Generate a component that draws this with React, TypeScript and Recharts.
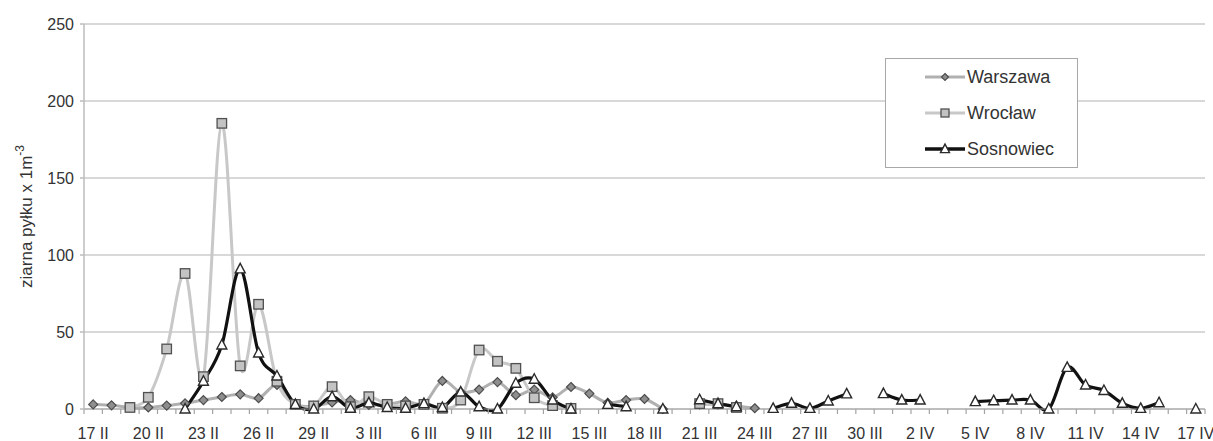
import React from 'react';
import { LineChart, Line, XAxis, YAxis, CartesianGrid, Legend, Label } from 'recharts';

// Daily categories, 17 II – 17 IV
const CATEGORIES = [
  '17 II', '18 II', '19 II', '20 II', '21 II', '22 II', '23 II', '24 II', '25 II', '26 II', '27 II', '28 II', '29 II',
  '1 III', '2 III', '3 III', '4 III', '5 III', '6 III', '7 III', '8 III', '9 III', '10 III', '11 III', '12 III',
  '13 III', '14 III', '15 III', '16 III', '17 III', '18 III', '19 III', '20 III', '21 III', '22 III', '23 III',
  '24 III', '25 III', '26 III', '27 III', '28 III', '29 III', '30 III', '31 III',
  '1 IV', '2 IV', '3 IV', '4 IV', '5 IV', '6 IV', '7 IV', '8 IV', '9 IV', '10 IV', '11 IV', '12 IV', '13 IV',
  '14 IV', '15 IV', '16 IV', '17 IV',
];

// Labelled every third day
const TICK_LABELS = [
  '17 II', '20 II', '23 II', '26 II', '29 II', '3 III', '6 III', '9 III', '12 III', '15 III', '18 III',
  '21 III', '24 III', '27 III', '30 III', '2 IV', '5 IV', '8 IV', '11 IV', '14 IV', '17 IV',
];

const Y_TICKS = [0, 50, 100, 150, 200, 250];

const WARSZAWA = [
  3, 2.4, 1, 1, 2.2, 3.7, 5.8, 7.8, 9.5, 7, 15.6, 3, 2,
  4.3, 5.8, 2.6, 3, 5, 3.6, 18.2, 11, 12.6, 17.5, 9, 12.6, 7.5, 14.3, 10, 4, 5.8, 6.5, 0, null,
  3, 3, 2, 0.5, null, null, null, null, null, null, null,
  null, null, null, null, null, null, null, null, null, null, null, null, null, null, null, null, null,
];

const WROCLAW = [
  null, null, 1, 7.6, 39, 88, 21, 185.5, 28, 68, 18, 3, 2,
  14.5, 1.5, 8, 3, 2, 3, 0.5, 5.8, 38.3, 31, 26.4, 7.3, 2.2, 0.4, null, null, null, null, null, null,
  3.5, 3.5, 1, null, null, null, null, null, null, null, null,
  null, null, null, null, null, null, null, null, null, null, null, null, null, null, null, null, null,
];

const SOSNOWIEC = [
  null, null, null, null, null, 0, 18, 41.6, 91, 36.4, 21.4, 3, 0,
  8, 0.5, 4, 1, 0.5, 3.5, 1, 11, 1.5, 0, 16.7, 19.3, 5.8, 0, null, 3, 1.5, null, 0, null,
  6, 3.5, 1.5, null, 0.4, 3.7, 0.4, 5.2, 9.8, null, 10,
  5.8, 5.8, null, null, 4.8, 5.4, 5.8, 5.8, 0, 27, 15.6, 12, 3.7, 0.4, 4.1, null, 0,
];

// each day sits in the middle of its own slot on a numeric axis
const DATA = CATEGORIES.map((day, i) => ({
  day,
  x: i + 0.5,
  warszawa: WARSZAWA[i],
  wroclaw: WROCLAW[i],
  sosnowiec: SOSNOWIEC[i],
}));

const CHART_W = 1213;
const CHART_H = 441;
const MARGIN = { top: 24, right: 8, bottom: 0, left: 0 };
const Y_AXIS_W = 84;
const SLOT = (CHART_W - MARGIN.left - MARGIN.right - Y_AXIS_W) / CATEGORIES.length;
const SLOT_EDGES = CATEGORIES.map((_, i) => i).concat([CATEGORIES.length]);

const FONT = '"Liberation Sans", Arial, Helvetica, sans-serif';
const TEXT = '#333';
const AXIS = '#a3a3a3';

// Smoothed line through every point (uniform Catmull-Rom as cubic Béziers)
const smoothCurve = (context: any) => {
  let pts: [number, number][] = [];
  return {
    areaStart() {},
    areaEnd() {},
    lineStart() {
      pts = [];
    },
    point(x: number, y: number) {
      pts.push([+x, +y]);
    },
    lineEnd() {
      const n = pts.length;
      if (!n) return;
      context.moveTo(pts[0][0], pts[0][1]);
      if (n === 1) {
        context.lineTo(pts[0][0], pts[0][1]);
        return;
      }
      for (let i = 0; i < n - 1; i++) {
        const p0 = pts[i - 1] || pts[i];
        const p1 = pts[i];
        const p2 = pts[i + 1];
        const p3 = pts[i + 2] || p2;
        context.bezierCurveTo(
          p1[0] + (p2[0] - p0[0]) / 6,
          p1[1] + (p2[1] - p0[1]) / 6,
          p2[0] - (p3[0] - p1[0]) / 6,
          p2[1] - (p3[1] - p1[1]) / 6,
          p2[0],
          p2[1]
        );
      }
    },
  };
};

const Diamond = ({ cx, cy, r = 4.5 }: any) => (
  <polygon
    points={`${cx},${cy - r} ${cx + r},${cy} ${cx},${cy + r} ${cx - r},${cy}`}
    fill="#8e8e8e"
    stroke="#4d4d4d"
    strokeWidth={1.2}
  />
);

const Square = ({ cx, cy, s = 9.5 }: any) => (
  <rect x={cx - s / 2} y={cy - s / 2} width={s} height={s} fill="#c3c3c3" stroke="#505050" strokeWidth={1.3} />
);

const Triangle = ({ cx, cy, w = 10 }: any) => (
  <polygon
    points={`${cx},${cy - w * 0.55} ${cx + w / 2},${cy + w * 0.4} ${cx - w / 2},${cy + w * 0.4}`}
    fill="#fff"
    stroke="#2b2b2b"
    strokeWidth={1.4}
  />
);

const dotWith = (Shape: any) => (props: any) => {
  const { cx, cy, index, value } = props;
  if (cx == null || cy == null || value == null) return <g key={`e-${index}`} />;
  return (
    <g key={`d-${index}`}>
      <Shape cx={cx} cy={cy} />
    </g>
  );
};

const XTick = (props: any) => {
  const { x, y, payload } = props;
  const v = payload.value;
  if (v % 3 !== 0 || v >= CATEGORIES.length) return <g />;
  return (
    <text x={x + SLOT / 2} y={y} dy="0.71em" textAnchor="middle" fontSize={16} fill={TEXT} fontFamily={FONT}>
      {TICK_LABELS[v / 3]}
    </text>
  );
};

const YTitle = (props: any) => {
  const vb = props.viewBox || { x: 0, y: 0, width: 0, height: 0 };
  const cx = vb.x + 26;
  const cy = vb.y + vb.height / 2;
  return (
    <text
      x={cx}
      y={cy}
      transform={`rotate(-90, ${cx}, ${cy})`}
      textAnchor="middle"
      dominantBaseline="central"
      fontSize={17}
      fill={TEXT}
      fontFamily={FONT}
    >
      ziarna pyłku x 1m
      <tspan dy={-6} fontSize={12}>-3</tspan>
    </text>
  );
};

const LEGEND_ROWS = [
  { name: 'Warszawa', color: '#b0b0b0', width: 3, Shape: Diamond, size: { r: 3.5 } },
  { name: 'Wrocław', color: '#c8c8c8', width: 3, Shape: Square, size: { s: 8 } },
  { name: 'Sosnowiec', color: '#111', width: 3.5, Shape: Triangle, size: { w: 9 } },
];

const LegendBox = () => (
  <div
    style={{
      width: 193,
      height: 110,
      boxSizing: 'border-box',
      border: '1px solid #a8a8a8',
      background: '#fff',
      fontFamily: FONT,
    }}
  >
    {LEGEND_ROWS.map((row) => (
      <div key={row.name} style={{ height: 36, display: 'flex', alignItems: 'center' }}>
        <svg width={40} height={16} style={{ marginLeft: 39, display: 'block' }}>
          <line x1={0} y1={8} x2={40} y2={8} stroke={row.color} strokeWidth={row.width} />
          <row.Shape cx={20} cy={8} {...row.size} />
        </svg>
        <span style={{ marginLeft: 2, fontSize: 18, color: TEXT, lineHeight: '18px' }}>{row.name}</span>
      </div>
    ))}
  </div>
);

export default function App() {
  return (
    <div style={{ position: 'absolute', left: 0, top: 0, width: CHART_W, height: CHART_H, background: '#fff', fontFamily: FONT }}>
      <LineChart width={CHART_W} height={CHART_H} data={DATA} margin={MARGIN}>
        <CartesianGrid vertical={false} stroke="#cbcbcb" strokeWidth={1.5} />
        <XAxis
          dataKey="x"
          type="number"
          domain={[0, CATEGORIES.length]}
          ticks={SLOT_EDGES}
          interval={0}
          height={32}
          tickSize={5}
          tickMargin={14}
          axisLine={{ stroke: AXIS, strokeWidth: 1.2 }}
          tickLine={{ stroke: AXIS, strokeWidth: 1.2 }}
          tick={XTick}
        />
        <YAxis
          type="number"
          domain={[0, 250]}
          ticks={Y_TICKS}
          interval={0}
          width={Y_AXIS_W}
          tickSize={4}
          tickMargin={6}
          axisLine={{ stroke: '#bcbcbc', strokeWidth: 1.5 }}
          tickLine={{ stroke: '#bcbcbc', strokeWidth: 1.5 }}
          tick={{ fontSize: 16, fill: TEXT, fontFamily: FONT }}
        >
          <Label content={YTitle} />
        </YAxis>
        <Legend
          layout="vertical"
          align="center"
          verticalAlign="middle"
          wrapperStyle={{ left: 885, top: 58, width: 193, height: 110 }}
          content={() => <LegendBox />}
        />
        <Line
          dataKey="warszawa"
          name="Warszawa"
          type={smoothCurve as any}
          stroke="#b0b0b0"
          strokeWidth={3}
          dot={dotWith(Diamond)}
          activeDot={false}
          isAnimationActive={false}
        />
        <Line
          dataKey="wroclaw"
          name="Wrocław"
          type={smoothCurve as any}
          stroke="#c8c8c8"
          strokeWidth={3}
          dot={dotWith(Square)}
          activeDot={false}
          isAnimationActive={false}
        />
        <Line
          dataKey="sosnowiec"
          name="Sosnowiec"
          type={smoothCurve as any}
          stroke="#111"
          strokeWidth={3.2}
          dot={dotWith(Triangle)}
          activeDot={false}
          isAnimationActive={false}
        />
      </LineChart>
    </div>
  );
}
